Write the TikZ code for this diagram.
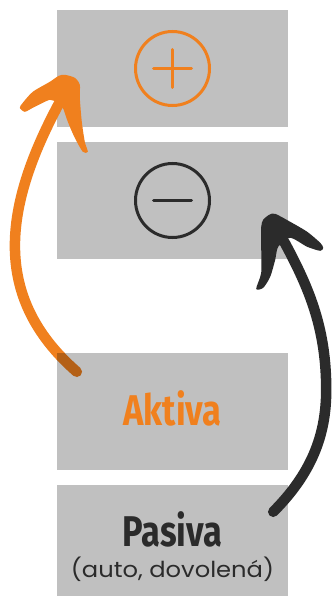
\documentclass[tikz,border=0pt]{standalone}
\usepackage{fontspec}
\usepackage{graphicx}
\usepackage{tikz}
\usetikzlibrary{positioning,calc}
\newfontfamily\headfont{Fira Sans}
\newfontfamily\subfont{Poppins}
\definecolor{boxgray}{HTML}{C0C0C0}
\definecolor{accorange}{HTML}{F0801E}
\definecolor{accdark}{HTML}{2B2B2B}

\begin{document}
\begin{tikzpicture}[x=1pt, y=-1pt,
    balbox/.style={rectangle, fill=boxgray, minimum width=231pt, minimum height=117pt, inner sep=0pt},
    signline/.style={line width=3pt, line cap=round},
    flowarr/.style={line width=10.5pt, line cap=round},
    boxtitle/.style={anchor=base, inner sep=0pt, font=\headfont\bfseries\fontsize{43}{43}\selectfont},
    boxnote/.style={anchor=base, inner sep=0pt, text=accdark, font=\subfont\fontsize{22}{22}\selectfont}
]
    \useasboundingbox (0,0) rectangle (334,596);
    \fill[white] (0,0) rectangle (334,596);

    \node[balbox] (plus) at (172.5,68.5) {};
    \node[balbox] (minus) at (172.5,200.5) {};
    \node[balbox, fill=none] (aktiva) at (172.5,411.5) {};
    \node[balbox, minimum height=111pt] (pasiva) at (172.5,540.5) {};

    \draw[signline, accorange] (plus.center) circle[radius=37pt];
    \draw[signline, accorange] ([xshift=-19pt]plus.center) -- ([xshift=19pt]plus.center);
    \draw[signline, accorange] ([yshift=19pt]plus.center) -- ([yshift=-19pt]plus.center);
    \draw[signline, accdark] (minus.center) circle[radius=37pt];
    \draw[signline, accdark] ([xshift=-19pt]minus.center) -- ([xshift=19pt]minus.center);

    \coordinate (otail) at ([shift={(20,19)}]aktiva.north west);
    \coordinate (otip) at ([shift={(8,65)}]plus.north west);
    \coordinate (dtail) at ([shift={(-15,27)}]pasiva.north east);
    \coordinate (dtip) at ([shift={(-13,72)}]minus.north east);

    \draw[flowarr, accorange] (otail) .. controls +(-87,-76) and +(-54,101) .. ([shift={(-6,29)}]otip);
    \begin{scope}[shift={(otip)}]
        \fill[accorange] plot[smooth cycle, tension=0.45] coordinates {(0,0) (10,3) (15,10) (15,23) (17,47) (20,67) (23,77) (18,77) (10,63) (3,47) (-2,33) (-8,28) (-15,25) (-32,33) (-40,37) (-45,33) (-42,28) (-32,17) (-15,7) (-6,1)};
    \end{scope}

    \draw[flowarr, accdark] (dtail) .. controls +(42,-42) and +(0,40) .. ([shift={(53,-122)}]dtail)
        .. controls +(0,-60) and +(26,48) .. ([shift={(9,28)}]dtip);
    \begin{scope}[shift={(dtip)}]
        \fill[accdark] plot[smooth cycle, tension=0.45] coordinates {(0,0) (15,8) (32,18) (45,29) (48,34) (45,37) (32,33) (15,24) (3,33) (0,46) (-5,63) (-12,74) (-19,75) (-14,59) (-14,33) (-14,13) (-12,6) (-6,1)};
    \end{scope}

    \fill[boxgray, blend mode=multiply] (aktiva.north west) rectangle (aktiva.south east);

    \node[boxtitle, text=accorange] (aktivalabel) at (172.5,425) {\scalebox{0.8}[1]{Aktiva}};
    \node[boxtitle, text=accdark] (pasivalabel) at (172.5,546.5) {\scalebox{0.8}[1]{Pasiva}};
    \node[boxnote] (pasivanote) at (172.5,577) {\scalebox{1.1}[1]{(auto, dovolená)}};
\end{tikzpicture}
\end{document}
